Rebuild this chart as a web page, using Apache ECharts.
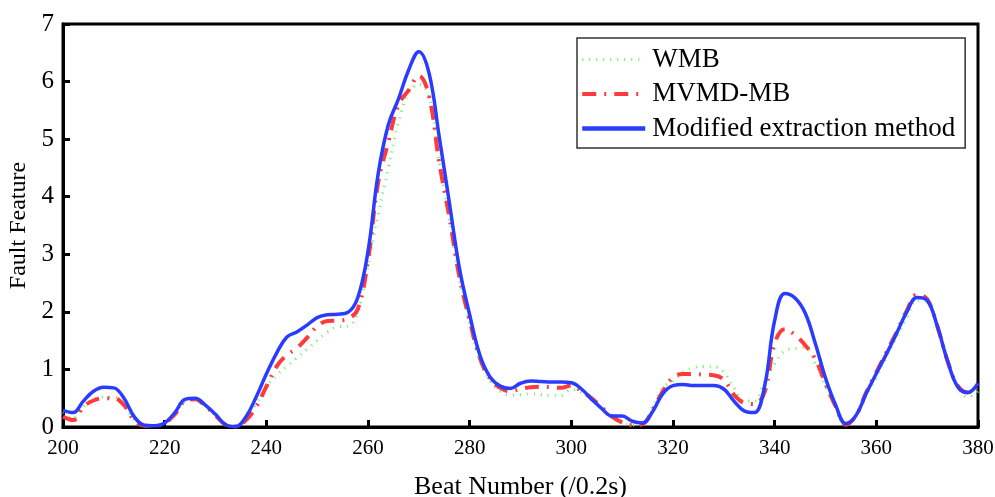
<!DOCTYPE html>
<html>
<head>
<meta charset="utf-8">
<script src="https://cdn.jsdelivr.net/npm/echarts@6/dist/echarts.min.js"></script>
<style>html,body{margin:0;padding:0;background:#fff}#c{width:995px;height:497px}</style>
</head>
<body>
<div id="c"></div>
<script>
const beats = [200,202,204,206,208,210,212,214,216,218,220,222,224,226,228,230,232,234,236,238,240,242,244,246,248,250,252,254,256,258,260,262,264,266,268,270,272,274,276,278,280,282,284,286,288,290,292,294,296,298,300,302,304,306,308,310,312,314,316,318,320,322,324,326,328,330,332,334,336,338,340,342,344,346,348,350,352,354,356,358,360,362,364,366,368,370,372,374,376,378,380];
const wmb = [0.25,0.15,0.35,0.48,0.52,0.52,0.38,0.12,0.02,0.02,0.07,0.22,0.45,0.48,0.36,0.2,0.04,0.01,0.12,0.4,0.7,0.9,1.05,1.2,1.35,1.5,1.65,1.74,1.75,2.0,2.8,3.7,4.5,5.3,5.8,5.95,5.75,4.6,3.6,2.55,1.8,1.15,0.8,0.62,0.55,0.56,0.58,0.56,0.55,0.55,0.65,0.6,0.48,0.33,0.18,0.08,0.03,0.05,0.35,0.68,0.8,0.95,1.03,1.05,1.05,0.95,0.68,0.45,0.45,0.8,1.1,1.32,1.36,1.38,1.1,0.7,0.33,0.04,0.2,0.55,0.85,1.22,1.55,1.9,2.2,2.18,1.75,1.15,0.7,0.52,0.62];
const mvmd = [0.18,0.12,0.35,0.46,0.5,0.5,0.38,0.12,0.02,0.02,0.07,0.22,0.45,0.48,0.36,0.2,0.04,0.01,0.12,0.35,0.7,1.05,1.25,1.37,1.55,1.75,1.84,1.85,1.88,2.05,2.9,4.25,4.95,5.6,5.85,6.1,5.75,4.6,3.65,2.6,1.85,1.2,0.84,0.68,0.62,0.66,0.69,0.7,0.69,0.68,0.72,0.62,0.5,0.34,0.18,0.08,0.03,0.05,0.3,0.62,0.86,0.92,0.92,0.91,0.9,0.82,0.56,0.42,0.4,0.6,1.45,1.7,1.6,1.42,1.18,0.75,0.36,0.04,0.2,0.6,0.95,1.3,1.65,2.02,2.3,2.22,1.75,1.15,0.72,0.6,0.72];
const modified = [0.29,0.25,0.45,0.62,0.69,0.68,0.5,0.18,0.03,0.02,0.07,0.25,0.48,0.5,0.38,0.22,0.04,0.01,0.18,0.52,0.92,1.28,1.56,1.65,1.77,1.9,1.95,1.96,1.99,2.25,3.05,4.4,5.25,5.7,6.2,6.52,6.15,5.05,3.9,2.75,1.95,1.25,0.87,0.71,0.67,0.76,0.8,0.79,0.78,0.78,0.77,0.66,0.48,0.32,0.19,0.19,0.1,0.07,0.27,0.58,0.72,0.74,0.72,0.72,0.72,0.66,0.45,0.28,0.25,0.7,1.85,2.32,2.24,1.98,1.45,0.85,0.38,0.06,0.2,0.58,0.93,1.27,1.63,2.0,2.25,2.2,1.75,1.15,0.7,0.6,0.76];
const xTicks = [200,220,240,260,280,300,320,340,360,380];
const yTicks = [0,1,2,3,4,5,6,7];
const names = ['WMB','MVMD-MB','Modified extraction method'];

const pair = v => beats.map((b,i)=>[b,v[i]]);
const font = 'Liberation Serif';
const green = '#66ee66', red = '#ff3a3a', blue = '#2a3cff';
const greenLine = {color:green,width:3,type:[1,6]};
const redLine = {color:red,width:4,type:[14,8,2,8]};
const blueLine = {color:blue,width:3.5};
const chart = echarts.init(document.getElementById('c'));
chart.setOption({
  animation:false,
  grid:{left:63,right:17,top:24,bottom:70,show:true,borderColor:'#000',borderWidth:3,backgroundColor:'transparent',outerBoundsMode:'none',containLabel:false},
  legend:{
    orient:'vertical', left:577, top:38, itemWidth:63, itemHeight:14, itemGap:7.5,
    padding:[8,10,6,3], borderColor:'#333', borderWidth:1.5, backgroundColor:'#fff',
    itemStyle:{opacity:0},
    textStyle:{fontFamily:font,fontSize:27,color:'#000',padding:[0,0,0,2]},
    data:[
      {name:names[0],lineStyle:{width:3}},
      {name:names[1],lineStyle:{width:4}},
      {name:names[2],lineStyle:{width:4.5}}
    ]
  },
  xAxis:{type:'value',min:xTicks[0],max:xTicks[xTicks.length-1],interval:20,
    name:'Beat Number (/0.2s)',nameLocation:'middle',nameGap:47,
    nameTextStyle:{fontFamily:font,fontSize:26,color:'#000'},
    axisLine:{lineStyle:{color:'#000',width:3}},
    axisTick:{inside:true,length:7,lineStyle:{color:'#000',width:3}},
    axisLabel:{fontFamily:font,fontSize:21,color:'#000',margin:11},
    splitLine:{show:false}},
  yAxis:{type:'value',min:yTicks[0],max:yTicks[yTicks.length-1],interval:1,
    name:'Fault Feature',nameLocation:'middle',nameGap:32,
    nameTextStyle:{fontFamily:font,fontSize:24,color:'#000'},
    axisLine:{show:true,lineStyle:{color:'#000',width:3}},
    axisTick:{show:true,inside:true,length:7,lineStyle:{color:'#000',width:3}},
    axisLabel:{fontFamily:font,fontSize:25,color:'#000',margin:9},
    splitLine:{show:false}},
  series:[
    {name:names[0],type:'line',data:pair(wmb),smooth:0.4,showSymbol:false,symbol:'none',z:1,
     lineStyle:greenLine,itemStyle:{color:green}},
    {name:names[1],type:'line',data:pair(mvmd),smooth:0.4,showSymbol:false,symbol:'none',z:2,
     lineStyle:redLine,itemStyle:{color:red}},
    {name:names[2],type:'line',data:pair(modified),smooth:0.4,showSymbol:false,symbol:'none',z:3,
     lineStyle:blueLine,itemStyle:{color:blue}}
  ]
});
</script>
</body>
</html>
